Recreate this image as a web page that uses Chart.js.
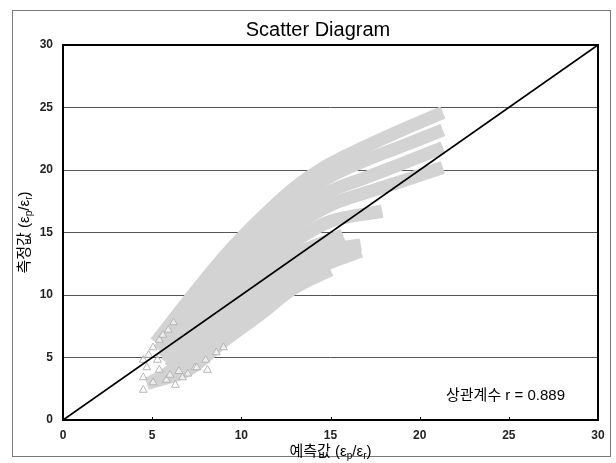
<!DOCTYPE html>
<html>
<head>
<meta charset="utf-8">
<script src="https://cdn.jsdelivr.net/npm/chart.js@4.4.0/dist/chart.umd.min.js"></script>
<style>
  html, body { margin: 0; padding: 0; background: #fff; }
  canvas { display: block; }
</style>
</head>
<body>
<canvas id="scatterChart" width="616" height="463"></canvas>
<script>
// predicted (x) vs measured (y) strain ratio, one array per test run
const run1 = [[5.2, 6.2], [7, 9.5], [9, 13.0], [11, 16.0], [13, 18.6], [15, 20.5], [17, 21.9], [19, 23.2], [21.3, 24.6]];
const run2 = [[5.4, 5.6], [7, 8.7], [9, 12.0], [11, 15.0], [13, 17.6], [15, 19.5], [17, 20.8], [19, 21.9], [21.3, 23.2]];
const run3 = [[5.6, 5.0], [7, 7.9], [9, 11.1], [11, 14.0], [13, 16.5], [15, 18.3], [17, 19.4], [19, 20.5], [21.3, 21.8]];
const run4 = [[5.8, 4.6], [7, 7.1], [9, 10.2], [11, 13.1], [13, 15.5], [15, 17.2], [17, 18.2], [19, 19.1], [21.3, 20.2]];
const run5 = [[6.0, 4.2], [7, 6.3], [9, 9.3], [11, 12.1], [13, 14.3], [15, 15.9], [17.9, 16.7]];
const run6 = [[6.2, 3.9], [7, 5.7], [9, 8.6], [11, 11.1], [13, 13.2], [15.7, 14.8]];
const run7 = [[5.6, 3.5], [7, 5.0], [9, 7.8], [11, 10.2], [13, 12.3], [15, 13.6], [16.7, 14.0]];
const run8 = [[5.0, 3.1], [7, 4.4], [9, 7.0], [11, 9.2], [13, 11.3], [15, 12.6], [16.7, 13.5]];
const run9 = [[4.7, 2.9], [7, 4.0], [9, 6.3], [11, 8.4], [13, 10.6], [15, 12.0]];
const runs = [run1, run2, run3, run4, run5, run6, run7, run8, run9];

// scattered low-strain readings
const lowPoints = [
  [5.05, 5.8], [5.4, 6.4], [4.5, 4.8], [4.5, 3.4], [4.5, 2.4], [5.05, 3.0], [5.8, 3.2],
  [6.3, 2.8], [6.7, 3.4], [7.4, 4.2], [8.1, 4.0], [8.0, 4.8], [8.6, 5.4], [9.0, 5.8],
  [5.4, 4.0], [6.0, 3.6], [4.7, 4.2], [5.3, 4.8], [5.9, 7.2], [6.2, 7.8], [7.5, 4.2],
  [4.8, 5.2], [5.6, 6.8], [6.5, 3.9], [7.0, 3.7]
];

const lineOfEquality = [[0, 0], [30, 30]];
const axisMin = 0;
const axisMax = 30;
const axisStep = 5;
const correlation = 0.889;

const chartTitle = 'Scatter Diagram';
const xTitle = [['예측값 (ε'], ['p', true], ['/ε'], ['r', true], [')']];
const yTitle = [['측정값 (ε'], ['p', true], ['/ε'], ['r', true], [')']];
const corrLabel = '상관계수 r = ' + correlation.toFixed(3);

const FONT = '"Liberation Sans", Arial, "Noto Sans CJK KR", sans-serif';
const BAND = '#d3d3d3';

function toXY(arr) {
  return arr.map(([x, y]) => ({ x, y }));
}

// text with subscript pieces, centred on (cx, cy)
function drawSubText(ctx, parts, cx, cy, size) {
  const sub = Math.round(size * 0.68);
  let total = 0;
  parts.forEach(([t, isSub]) => {
    ctx.font = (isSub ? sub : size) + 'px ' + FONT;
    total += ctx.measureText(t).width;
  });
  let x = cx - total / 2;
  ctx.textAlign = 'left';
  ctx.textBaseline = 'middle';
  parts.forEach(([t, isSub]) => {
    ctx.font = (isSub ? sub : size) + 'px ' + FONT;
    ctx.fillText(t, x, isSub ? cy + size * 0.3 : cy);
    x += ctx.measureText(t).width;
  });
}

const chartDecor = {
  id: 'chartDecor',
  afterDraw(chart) {
    const { ctx, chartArea: a } = chart;
    const xs = chart.scales.x;
    ctx.save();

    // outer frame
    ctx.strokeStyle = '#7a7a7a';
    ctx.lineWidth = 1;
    ctx.strokeRect(12.5, 10.5, 598, 446);

    // plot border
    ctx.strokeStyle = '#000';
    ctx.lineWidth = 2;
    ctx.strokeRect(a.left, a.top, a.right - a.left, a.bottom - a.top);

    // small inside tick marks on the x axis
    ctx.lineWidth = 1;
    for (let v = axisMin + axisStep; v < axisMax; v += axisStep) {
      const px = Math.round(xs.getPixelForValue(v)) + 0.5;
      ctx.beginPath();
      ctx.moveTo(px, a.bottom);
      ctx.lineTo(px, a.bottom - 3);
      ctx.stroke();
    }

    ctx.fillStyle = '#000';
    ctx.font = '20px ' + FONT;
    ctx.textAlign = 'center';
    ctx.textBaseline = 'middle';
    ctx.fillText(chartTitle, 318, 30);

    drawSubText(ctx, xTitle, (a.left + a.right) / 2, 452, 15);

    ctx.save();
    ctx.translate(25, (a.top + a.bottom) / 2);
    ctx.rotate(-Math.PI / 2);
    drawSubText(ctx, yTitle, 0, 0, 15);
    ctx.restore();

    ctx.font = '15px ' + FONT;
    ctx.textAlign = 'right';
    ctx.textBaseline = 'middle';
    ctx.fillText(corrLabel, 565, 396);

    ctx.restore();
  }
};

const datasets = [{
  data: toXY(lineOfEquality),
  showLine: true,
  borderColor: '#000',
  borderWidth: 1.8,
  pointRadius: 0,
  order: 0
}];

runs.forEach(run => {
  datasets.push({
    data: toXY(run),
    showLine: true,
    borderColor: BAND,
    borderWidth: 13,
    borderCapStyle: 'butt',
    borderJoinStyle: 'round',
    tension: 0.35,
    pointRadius: 0,
    order: 2
  });
});

datasets.push({
  data: toXY(lowPoints),
  pointStyle: 'triangle',
  pointRadius: 4.5,
  borderWidth: 1,
  borderColor: '#b5b5b5',
  backgroundColor: 'rgba(255,255,255,0.6)',
  order: 1
});

const tickFont = { family: FONT, size: 12, weight: 'bold' };

new Chart(document.getElementById('scatterChart'), {
  type: 'scatter',
  data: { datasets },
  options: {
    responsive: false,
    animation: false,
    layout: { padding: { left: 0, top: 45, right: 18, bottom: 0 } },
    plugins: {
      legend: { display: false },
      tooltip: { enabled: false },
      title: { display: false }
    },
    scales: {
      x: {
        type: 'linear',
        min: axisMin,
        max: axisMax,
        ticks: { stepSize: axisStep, color: '#222', padding: 8, font: tickFont },
        grid: { display: false, drawTicks: false },
        border: { display: false },
        afterFit: s => { s.height = 43; }
      },
      y: {
        type: 'linear',
        min: axisMin,
        max: axisMax,
        ticks: { stepSize: axisStep, color: '#222', padding: 10, font: tickFont },
        grid: { color: '#555', lineWidth: 1, drawTicks: false },
        border: { display: false },
        afterFit: s => { s.width = 63; }
      }
    }
  },
  plugins: [chartDecor]
});
</script>
</body>
</html>
